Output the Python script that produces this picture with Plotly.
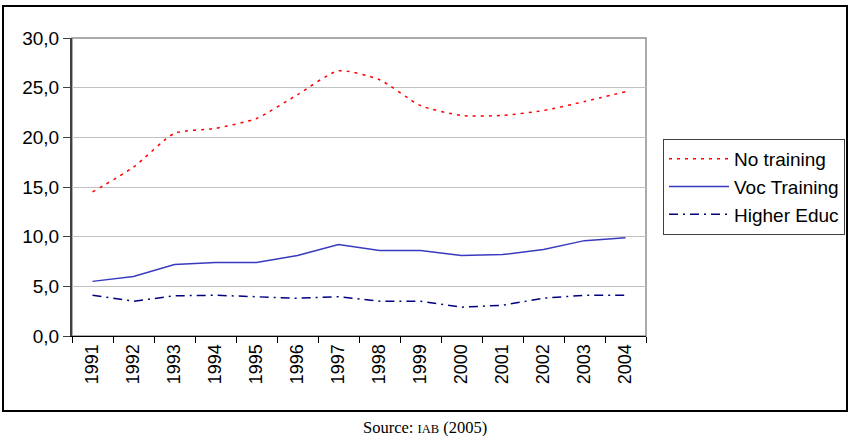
import plotly.graph_objects as go

years = ["1991", "1992", "1993", "1994", "1995", "1996", "1997",
         "1998", "1999", "2000", "2001", "2002", "2003", "2004"]
no_training = [14.5, 17.0, 20.4, 20.9, 21.9, 24.3, 26.7, 25.8, 23.2, 22.2, 22.2, 22.7, 23.6, 24.6]
voc_training = [5.5, 6.0, 7.2, 7.4, 7.4, 8.1, 9.2, 8.6, 8.6, 8.1, 8.2, 8.7, 9.6, 9.9]
higher_educ = [4.1, 3.5, 4.05, 4.1, 3.95, 3.8, 3.95, 3.5, 3.5, 2.9, 3.1, 3.8, 4.1, 4.1]
y_ticks = [0, 5, 10, 15, 20, 25, 30]
y_labels = ["0,0", "5,0", "10,0", "15,0", "20,0", "25,0", "30,0"]

FONT = "Liberation Sans, Arial, sans-serif"

fig = go.Figure()
fig.add_trace(go.Scatter(x=years, y=no_training, name="No training", mode="lines",
                         line=dict(color="#FF0000", width=1.5, dash="3px,5px", shape="spline", smoothing=0.6)))
fig.add_trace(go.Scatter(x=years, y=voc_training, name="Voc Training", mode="lines",
                         line=dict(color="#3A3AC0", width=1.5)))
fig.add_trace(go.Scatter(x=years, y=higher_educ, name="Higher Educ", mode="lines",
                         line=dict(color="#000080", width=1.5, dash="9px,5px,2px,5px")))

W, H = 850, 436
L, R, T, B = 72, 646, 38, 336
pw, ph = R - L, B - T

def px2x(px):
    return (px - L) / pw

def py2y(py):
    return (B - py) / ph

fig.update_layout(
    width=W, height=H,
    margin=dict(l=L, r=W - R, t=T, b=H - B, autoexpand=False),
    paper_bgcolor="white", plot_bgcolor="white",
    font=dict(family=FONT, size=19, color="black"),
    showlegend=True,
    legend=dict(x=px2x(663), y=py2y(139), xanchor="left", yanchor="top",
                bordercolor="#404040", borderwidth=1, bgcolor="white",
                font=dict(family=FONT, size=19, color="black"),
                itemwidth=60, tracegroupgap=0),
    xaxis=dict(type="category", showgrid=False, tickangle=-90, automargin=False,
               ticks="outside", ticklen=6, tickson="boundaries", tickcolor="black",
               showline=True, linecolor="black", linewidth=1,
               tickfont=dict(family=FONT, size=18), range=[-0.5, 13.5]),
    yaxis=dict(range=[0, 30], tickvals=y_ticks, ticktext=y_labels, automargin=False,
               showgrid=True, gridcolor="#C0C0C0", gridwidth=1,
               ticks="outside", ticklen=7, tickcolor="#404040",
               showline=True, linecolor="#404040", linewidth=2,
               tickfont=dict(family=FONT, size=19), zeroline=False),
    shapes=[
        dict(type="rect", xref="paper", yref="paper", x0=0, x1=1, y0=0, y1=1,
             line=dict(color="#909090", width=1.5), layer="below"),
        dict(type="rect", xref="paper", yref="paper",
             x0=px2x(3), x1=px2x(847), y0=py2y(411), y1=py2y(6),
             line=dict(color="black", width=2)),
    ],
    annotations=[
        dict(xref="paper", yref="paper", x=px2x(425), y=py2y(427.5),
             xanchor="center", yanchor="middle", showarrow=False,
             text="Source: <span style='font-size:12.5px'>IAB</span> (2005)",
             font=dict(family="Liberation Serif, Times New Roman, serif", size=16.5, color="black")),
    ],
)

fig.write_html("out.html")
